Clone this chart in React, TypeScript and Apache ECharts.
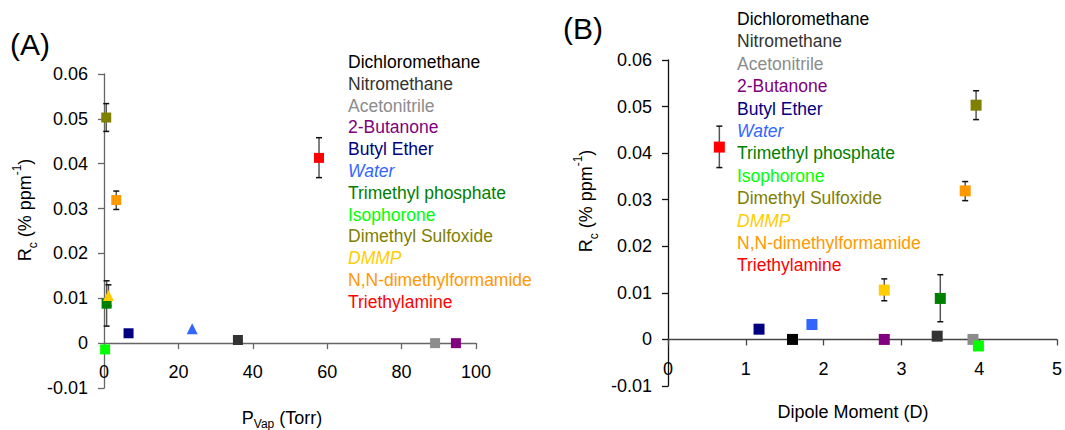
import React, { useEffect, useRef } from "react";
import * as echarts from "echarts";

const compounds = [
  "Dichloromethane",
  "Nitromethane",
  "Acetonitrile",
  "2-Butanone",
  "Butyl Ether",
  "Water",
  "Trimethyl phosphate",
  "Isophorone",
  "Dimethyl Sulfoxide",
  "DMMP",
  "N,N-dimethylformamide",
  "Triethylamine",
];
const colors = [
  "#000000",
  "#333333",
  "#8c8c8c",
  "#800080",
  "#000080",
  "#3366ff",
  "#008000",
  "#00ff00",
  "#808000",
  "#ffcc00",
  "#ff9900",
  "#ff0000",
];
const italic = [false, false, false, false, false, true, false, false, false, true, false, false];
// vapour pressure (Torr); Dichloromethane lies off the left panel
const pVap: (number | null)[] = [null, 36, 89, 94.6, 6.6, 23.7, 0.7, 0.3, 0.6, 1.2, 3.3, 57.8];
const dipole = [1.6, 3.46, 3.92, 2.78, 1.17, 1.85, 3.5, 3.99, 3.96, 2.78, 3.82, 0.66];
const rc = [0, 0.0007, 0, 0, 0.0022, 0.0032, 0.0088, -0.0014, 0.0503, 0.0106, 0.0319, 0.0413];
const errLow: (number | null)[] = [null, null, null, null, null, null, 0.0038, null, 0.0472, 0.0083, 0.0298, 0.0369];
const errHigh: (number | null)[] = [null, null, null, null, null, null, 0.0139, null, 0.0534, 0.013, 0.0339, 0.0458];
const leftSymbols = ["rect", "rect", "rect", "rect", "rect", "triangle", "rect", "rect", "rect", "triangle", "rect", "rect"];

const FONT = "'Liberation Sans', Arial, Helvetica, sans-serif";

export default function App() {
  const ref = useRef<HTMLDivElement>(null);
  useEffect(() => {
    document.body.style.margin = "0";
    if (!ref.current) return;
    const chart = echarts.init(ref.current, undefined, { renderer: "svg" });

    const yFmt = (v: number) => String(parseFloat(v.toFixed(3)));

    const mkX = (gi: number, min: number, max: number, interval: number, color: string, margin: number) => ({
      type: "value",
      gridIndex: gi,
      min,
      max,
      interval,
      splitLine: { show: false },
      axisLine: { onZero: true, lineStyle: { color, width: 1.3 } },
      axisTick: { show: true, length: 6, lineStyle: { color, width: 1.3 } },
      axisLabel: { color: "#000", fontSize: 18, fontFamily: FONT, margin },
    });
    const mkY = (gi: number, color: string) => ({
      type: "value",
      gridIndex: gi,
      min: -0.01,
      max: 0.06,
      interval: 0.01,
      splitLine: { show: false },
      axisLine: { onZero: false, lineStyle: { color, width: 1.3 } },
      axisTick: { show: true, length: 6, lineStyle: { color, width: 1.3 } },
      axisLabel: { color: "#000", fontSize: 18, fontFamily: FONT, margin: 16, formatter: yFmt },
    });

    const series: any[] = [];
    // error bars
    const errRender = (params: any, api: any) => {
      const x = api.value(0);
      const lo = api.coord([x, api.value(1)]);
      const hi = api.coord([x, api.value(2)]);
      const cw = 3;
      return {
        type: "group",
        children: [
          { type: "line", shape: { x1: lo[0], y1: lo[1], x2: hi[0], y2: hi[1] }, style: { stroke: "#555", lineWidth: 1.5 } },
          { type: "line", shape: { x1: lo[0] - cw, y1: lo[1], x2: lo[0] + cw, y2: lo[1] }, style: { stroke: "#111", lineWidth: 1.5 } },
          { type: "line", shape: { x1: hi[0] - cw, y1: hi[1], x2: hi[0] + cw, y2: hi[1] }, style: { stroke: "#111", lineWidth: 1.5 } },
        ],
      };
    };
    const errLeft: number[][] = [];
    const errRight: number[][] = [];
    compounds.forEach((_, i) => {
      if (errLow[i] != null && errHigh[i] != null) {
        if (pVap[i] != null) errLeft.push([pVap[i] as number, errLow[i] as number, errHigh[i] as number]);
        errRight.push([dipole[i], errLow[i] as number, errHigh[i] as number]);
      }
    });
    series.push({
      type: "custom",
      xAxisIndex: 0,
      yAxisIndex: 0,
      renderItem: errRender,
      encode: { x: 0, y: [1, 2] },
      data: errLeft,
      z: 1,
      silent: true,
    });
    series.push({
      type: "custom",
      xAxisIndex: 1,
      yAxisIndex: 1,
      renderItem: errRender,
      encode: { x: 0, y: [1, 2] },
      data: errRight,
      z: 1,
      silent: true,
    });

    compounds.forEach((name, i) => {
      if (pVap[i] != null) {
        series.push({
          type: "scatter",
          name,
          xAxisIndex: 0,
          yAxisIndex: 0,
          symbol: leftSymbols[i],
          symbolSize: leftSymbols[i] === "triangle" ? 11 : 10,
          itemStyle: { color: colors[i], opacity: 1 },
          data: [[pVap[i], rc[i]]],
          z: 3,
        });
      }
      series.push({
        type: "scatter",
        name,
        xAxisIndex: 1,
        yAxisIndex: 1,
        symbol: "rect",
        symbolSize: 11,
        itemStyle: { color: colors[i], opacity: 1 },
        data: [[dipole[i], rc[i]]],
        z: 3,
      });
    });

    const legendTexts = (x0: number, y0: number, step: number) =>
      compounds.map((name, i) => ({
        type: "text",
        x: x0,
        y: y0 + i * step,
        style: {
          text: name,
          fill: colors[i],
          font: `${italic[i] ? "italic " : ""}17.5px ${FONT}`,
          align: "left",
          verticalAlign: "middle",
        },
      }));

    const titleRich = {
      a: { fontSize: 18, fontFamily: FONT, color: "#000", lineHeight: 24 },
      s: { fontSize: 12, fontFamily: FONT, color: "#000", verticalAlign: "bottom", lineHeight: 20 },
      p: { fontSize: 12, fontFamily: FONT, color: "#000", verticalAlign: "top", lineHeight: 28 },
    };

    const graphic: any[] = [
      {
        type: "text",
        x: 10,
        y: 44,
        style: { text: "(A)", font: `30px ${FONT}`, fill: "#000", verticalAlign: "middle", align: "left" },
      },
      {
        type: "text",
        x: 563,
        y: 28,
        style: { text: "(B)", font: `30px ${FONT}`, fill: "#000", verticalAlign: "middle", align: "left" },
      },
      {
        type: "text",
        x: 25,
        y: 210,
        rotation: Math.PI / 2,
        style: {
          text: "{a|R}{s|c}{a| (% ppm}{p|-1}{a|)}",
          rich: titleRich,
          align: "center",
          verticalAlign: "middle",
        },
      },
      {
        type: "text",
        x: 586,
        y: 201,
        rotation: Math.PI / 2,
        style: {
          text: "{a|R}{s|c}{a| (% ppm}{p|-1}{a|)}",
          rich: titleRich,
          align: "center",
          verticalAlign: "middle",
        },
      },
      {
        type: "text",
        x: 282,
        y: 418,
        style: {
          text: "{a|P}{s|Vap}{a| (Torr)}",
          rich: titleRich,
          align: "center",
          verticalAlign: "middle",
        },
      },
      {
        type: "text",
        x: 853,
        y: 412,
        style: {
          text: "Dipole Moment (D)",
          font: `18px ${FONT}`,
          fill: "#000",
          align: "center",
          verticalAlign: "middle",
        },
      },
      ...legendTexts(348, 62, 21.8),
      ...legendTexts(737, 19, 22.4),
    ];

    chart.setOption({
      animation: false,
      backgroundColor: "#ffffff",
      textStyle: { fontFamily: FONT },
      grid: [
        { left: 104, top: 74, width: 372, height: 314, containLabel: false, outerBoundsMode: "none" },
        { left: 668, top: 60, width: 389, height: 326, containLabel: false, outerBoundsMode: "none" },
      ],
      xAxis: [mkX(0, 0, 100, 20, "#666", -25), mkX(1, 0, 5, 1, "#444", -26)],
      yAxis: [mkY(0, "#666"), mkY(1, "#111")],
      series,
      graphic,
    });
    return () => chart.dispose();
  }, []);
  return <div ref={ref} style={{ width: 1065, height: 430 }} />;
}
